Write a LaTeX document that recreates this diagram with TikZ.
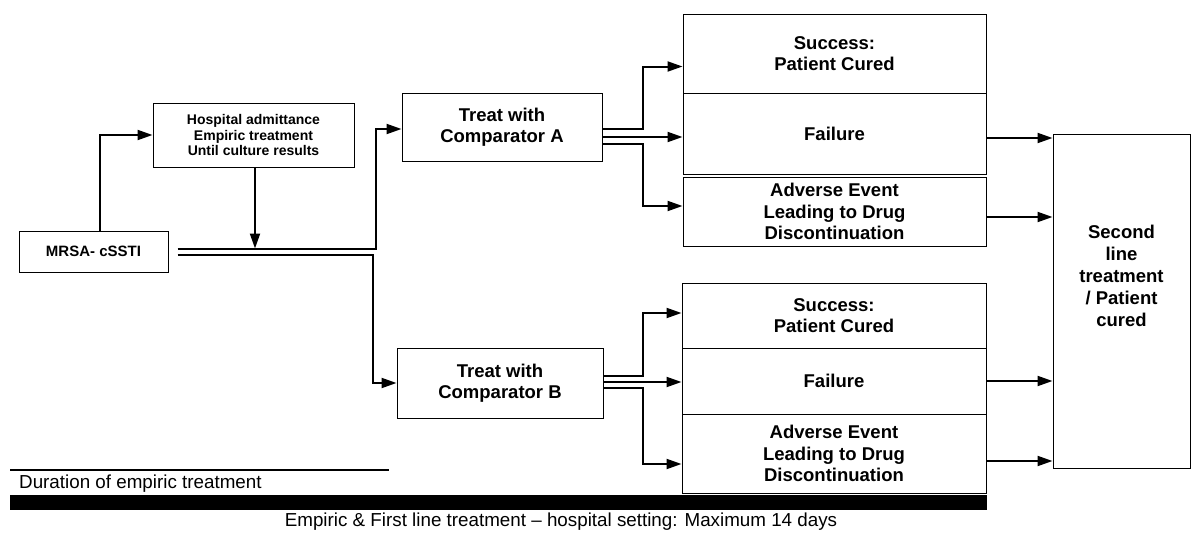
\documentclass[tikz,border=0pt]{standalone}
\usepackage{fontspec}
\setmainfont{Liberation Sans}
\usetikzlibrary{arrows.meta,calc}
\tikzset{
  box/.style={draw, line width=1pt, inner sep=0pt, align=center,
    font=\bfseries\fontsize{18.5}{21.5}\selectfont},
  smallbox/.style={box, font=\bfseries\fontsize{14}{15.5}\selectfont},
  arr/.style={line width=2pt, -{Triangle[length=15pt,width=10pt]}},
  ln/.style={line width=2pt},
  plain/.style={inner sep=0pt, font=\fontsize{18.8}{21.5}\selectfont}
}
\begin{document}
\begin{tikzpicture}[x=1pt,y=-1pt]
\useasboundingbox (0,0) rectangle (1192,533);
% nodes
\node[smallbox, font=\bfseries\fontsize{15}{17}\selectfont, minimum width=149pt, minimum height=41pt] (mrsa) at (93.5,251.5) {MRSA- cSSTI};
\node[smallbox, minimum width=201pt, minimum height=64pt] (hosp) at (253.5,135) {Hospital admittance\\Empiric treatment\\Until culture results};
\node[box, minimum width=200pt, minimum height=68pt] (tA) at (502,127) {Treat with\\Comparator A};
\node[box, minimum width=206pt, minimum height=70pt] (tB) at (500,383) {Treat with\\Comparator B};
\node[box, minimum width=303pt, minimum height=79pt] (sA) at (834.5,53.5) {Success:\\Patient Cured};
\node[box, minimum width=303pt, minimum height=81pt] (fA) at (834.5,133.5) {Failure};
\node[box, minimum width=303pt, minimum height=69pt] (aA) at (834.5,211.5) {Adverse Event\\Leading to Drug\\Discontinuation};
\node[box, minimum width=304pt, minimum height=65pt] (sB) at (834,315.5) {Success:\\Patient Cured};
\node[box, minimum width=304pt, minimum height=66pt] (fB) at (834,381) {Failure};
\node[box, minimum width=304pt, minimum height=79pt] (aB) at (834,453.5) {Adverse Event\\Leading to Drug\\Discontinuation};
\node[box, minimum width=137pt, minimum height=334pt] (sec) at (1121.5,301) {};
\node[inner sep=0pt, align=center, font=\bfseries\fontsize{18.5}{22}\selectfont] (secl) at (1121.5,276) {Second\\line\\treatment\\/ Patient\\cured};
% connectors
\coordinate (tl) at ([xshift=9pt,yshift=3pt]mrsa.east);
\coordinate (bl) at ([xshift=9pt,yshift=-3pt]mrsa.east);
\draw[arr] ([xshift=6.5pt]mrsa.north) |- (hosp.west);
\draw[arr] ([xshift=1.5pt]hosp.south) -- ([xshift=1.5pt]hosp.south |- tl);
\draw[arr] (tl) -- ++(198,0) |- ([yshift=-2pt]tA.west);
\draw[arr] (bl) -- ++(195,0) |- (tB.west);
% from A
\draw[arr] ([yshift=-2pt]tA.east) -- ++(40,0) |- ([yshift=-13pt]sA.west);
\draw[arr] ([yshift=-10pt]tA.east) -- ([yshift=-10pt]tA.east -| fA.west);
\draw[arr] ([yshift=-17pt]tA.east) -- ++(40,0) |- ([yshift=5.5pt]aA.west);
% from B
\draw[arr] ([yshift=7pt]tB.east) -- ++(39,0) |- ([yshift=2.5pt]sB.west);
\draw[arr] ([yshift=1pt]tB.east) -- ([yshift=1pt]tB.east -| fB.west);
\draw[arr] ([yshift=-5pt]tB.east) -- ++(39,0) |- ([yshift=-10.5pt]aB.west);
% to second line
\draw[arr] ([yshift=-4.5pt]fA.east) -- ([yshift=-4.5pt]fA.east -| sec.west);
\draw[arr] ([yshift=-5.5pt]aA.east) -- ([yshift=-5.5pt]aA.east -| sec.west);
\draw[arr] (fB.east) -- (fB.east -| sec.west);
\draw[arr] ([yshift=-7.5pt]aB.east) -- ([yshift=-7.5pt]aB.east -| sec.west);
% timeline
\draw[line width=1.5pt] (10,470) -- (389,470);
\node[plain, anchor=base west] (dur) at (19,488) {Duration of empiric treatment};
\fill (10,495) rectangle (987,510);
\node[plain, anchor=base] (emp) at (561,526) {Empiric \& First line treatment – hospital setting: Maximum 14 days};
\end{tikzpicture}
\end{document}
